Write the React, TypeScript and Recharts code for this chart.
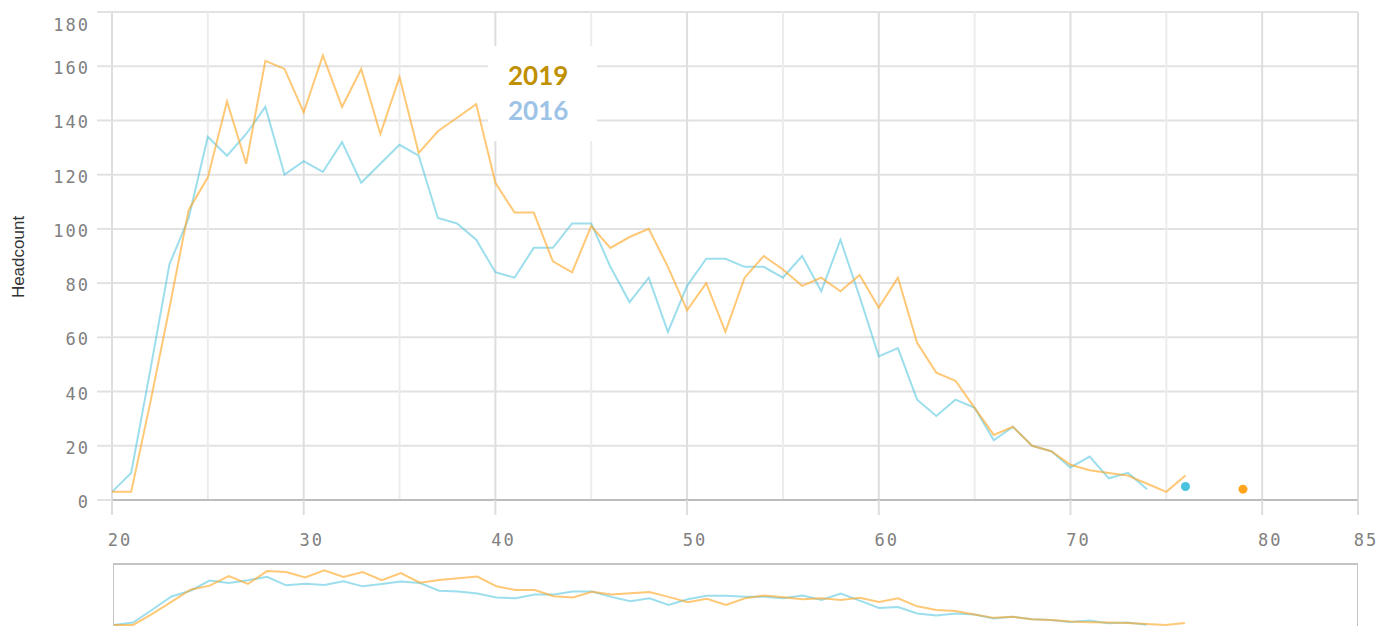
import React from "react";
import {
  LineChart,
  Line,
  XAxis,
  YAxis,
  CartesianGrid,
  Legend,
} from "recharts";

const ages = [
  20, 21, 22, 23, 24, 25, 26, 27, 28, 29, 30, 31, 32, 33, 34, 35, 36, 37, 38, 39,
  40, 41, 42, 43, 44, 45, 46, 47, 48, 49, 50, 51, 52, 53, 54, 55, 56, 57, 58, 59,
  60, 61, 62, 63, 64, 65, 66, 67, 68, 69, 70, 71, 72, 73, 74, 75, 76, 77, 78, 79,
];

const headcount2019: (number | null)[] = [
  3, 3, 36, 71, 107, 119, 147, 124, 162, 159, 143, 164, 145, 159, 135, 156, 128, 136, 141, 146,
  117, 106, 106, 88, 84, 101, 93, 97, 100, 86, 70, 80, 62, 82, 90, 85, 79, 82, 77, 83,
  71, 82, 58, 47, 44, 34, 24, 27, 20, 18, 13, 11, 10, 9, 6, 3, 9, null, null, 4,
];

const headcount2016: (number | null)[] = [
  3, 10, 48, 87, 104, 134, 127, 135, 145, 120, 125, 121, 132, 117, 124, 131, 127, 104, 102, 96,
  84, 82, 93, 93, 102, 102, 86, 73, 82, 62, 79, 89, 89, 86, 86, 82, 90, 77, 96, 75,
  53, 56, 37, 31, 37, 34, 22, 27, 20, 18, 12, 16, 8, 10, 4, null, 5, null, null, null,
];

const xTicks = [20, 30, 40, 50, 60, 70, 80, 85];
const xMinorGrid = [25, 35, 45, 55, 65, 75];
const yTicks = [0, 20, 40, 60, 80, 100, 120, 140, 160, 180];

const legendNames = ["2019", "2016"];
const legendColors = ["#BF9000", "#9DC3E6"];

const ORANGE = "#FFA41C";
const CYAN = "#4CC3DE";
const TICK_FONT = "'DejaVu Sans Mono', monospace";

const data = ages.map((age, i) => ({
  age,
  y2019: headcount2019[i],
  y2016: headcount2016[i],
}));

function isolatedDot(values: (number | null)[], color: string) {
  return (props: any) => {
    const { cx, cy, index } = props;
    const v = values[index];
    const prev = index > 0 ? values[index - 1] : null;
    const next = index < values.length - 1 ? values[index + 1] : null;
    if (v != null && prev == null && next == null && cx != null && cy != null) {
      return <circle key={`dot-${index}`} cx={cx} cy={cy} r={4.5} fill={color} />;
    }
    return <g key={`dot-${index}`} />;
  };
}

function XTick(props: any) {
  const { x, y, payload } = props;
  return (
    <text
      x={x + 8}
      y={y + 25}
      dy="0.35em"
      textAnchor="middle"
      fill="#808080"
      fontFamily={TICK_FONT}
      fontSize={17}
      letterSpacing={2}
    >
      {payload.value}
    </text>
  );
}

function YTick(props: any) {
  const { x, y, payload } = props;
  return (
    <text
      x={x}
      y={Math.max(y + 2, 25)}
      dy="0.35em"
      textAnchor="end"
      fill="#808080"
      fontFamily={TICK_FONT}
      fontSize={17}
      letterSpacing={2}
    >
      {payload.value}
    </text>
  );
}

function YLabel() {
  return (
    <text
      x={18}
      y={257}
      transform="rotate(-90 18 257)"
      textAnchor="middle"
      dy="0.35em"
      fill="#333"
      fontFamily="'Liberation Sans', Arial, sans-serif"
      fontSize={17}
    >
      Headcount
    </text>
  );
}

function YearLegend() {
  return (
    <div
      style={{
        background: "#fff",
        width: 109,
        height: 95,
        boxSizing: "border-box",
        paddingTop: 12,
        paddingLeft: 20,
        fontFamily: "Lato, 'Open Sans', sans-serif",
        fontWeight: 700,
        fontSize: 26,
        lineHeight: "35px",
      }}
    >
      {legendNames.map((name, i) => (
        <div key={name} style={{ color: legendColors[i] }}>
          {name}
        </div>
      ))}
    </div>
  );
}

export default function App() {
  return (
    <div
      style={{
        position: "absolute",
        left: 0,
        top: 0,
        width: 1389,
        height: 626,
        overflow: "hidden",
        background: "#fff",
      }}
    >
      <LineChart
        width={1389}
        height={560}
        data={data}
        margin={{ top: 12, right: 31, left: 0, bottom: 20 }}
      >
        <CartesianGrid horizontal={true} vertical={false} stroke="#e2e2e2" strokeWidth={2} />
        <CartesianGrid
          horizontal={false}
          vertical={true}
          verticalValues={xMinorGrid}
          stroke="#ececec"
          strokeWidth={2}
        />
        <CartesianGrid
          horizontal={false}
          vertical={true}
          verticalValues={xTicks}
          stroke="#dedede"
          strokeWidth={2}
        />
        <XAxis
          dataKey="age"
          type="number"
          domain={[20, 85]}
          ticks={xTicks}
          interval={0}
          height={40}
          tickSize={15}
          tickMargin={0}
          tick={<XTick />}
          tickLine={{ stroke: "#dedede", strokeWidth: 2 }}
          axisLine={{ stroke: "#bdbdbd", strokeWidth: 2 }}
        />
        <YAxis
          type="number"
          domain={[0, 180]}
          ticks={yTicks}
          interval={0}
          width={112}
          tickSize={15}
          tickMargin={7}
          tick={<YTick />}
          tickLine={{ stroke: "#e2e2e2", strokeWidth: 2 }}
          axisLine={false}
          label={<YLabel />}
        />
        <Legend
          layout="vertical"
          align="center"
          verticalAlign="middle"
          content={<YearLegend />}
          wrapperStyle={{ left: 488, top: 46, width: 109, height: 95 }}
        />
        <Line
          type="linear"
          dataKey="y2016"
          name="2016"
          stroke={CYAN}
          strokeOpacity={0.55}
          strokeWidth={2}
          dot={isolatedDot(headcount2016, CYAN)}
          activeDot={false}
          isAnimationActive={false}
        />
        <Line
          type="linear"
          dataKey="y2019"
          name="2019"
          stroke={ORANGE}
          strokeOpacity={0.6}
          strokeWidth={2}
          dot={isolatedDot(headcount2019, ORANGE)}
          activeDot={false}
          isAnimationActive={false}
        />
      </LineChart>

      <div
        style={{
          position: "absolute",
          left: 113,
          top: 563,
          width: 1245,
          height: 70,
          boxSizing: "border-box",
          border: "1px solid #c4c4c4",
          borderTop: "2px solid #c4c4c4",
          background: "#fff",
        }}
      >
        <LineChart
          width={1243}
          height={61}
          data={data}
          margin={{ top: 0, right: 0, left: 0, bottom: 0 }}
        >
          <XAxis dataKey="age" type="number" domain={[20, 85]} hide />
          <YAxis type="number" domain={[0, 180]} hide />
          <Line
            type="linear"
            dataKey="y2016"
            stroke={CYAN}
            strokeOpacity={0.55}
            strokeWidth={2}
            dot={false}
            isAnimationActive={false}
          />
          <Line
            type="linear"
            dataKey="y2019"
            stroke={ORANGE}
            strokeOpacity={0.6}
            strokeWidth={2}
            dot={false}
            isAnimationActive={false}
          />
        </LineChart>
      </div>
    </div>
  );
}
